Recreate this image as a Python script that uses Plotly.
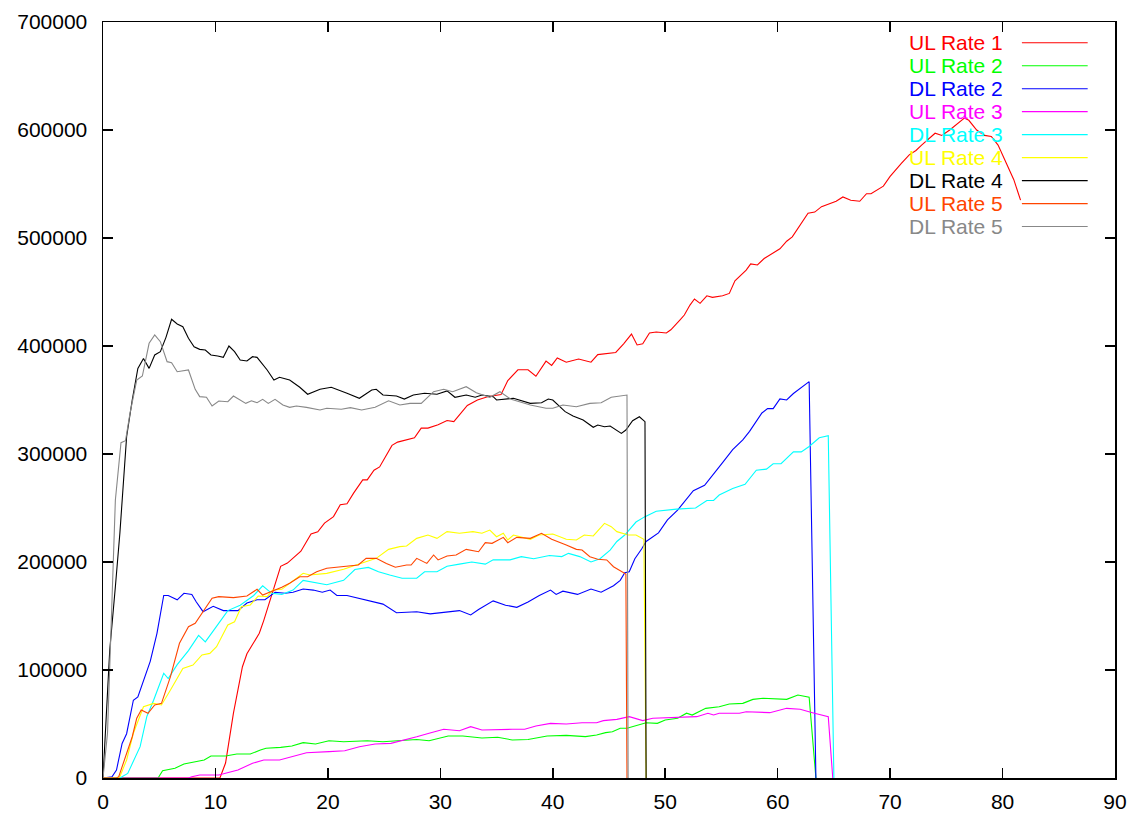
import plotly.graph_objects as go

# ---------------- data ----------------
ul1_t = [0, 10.4, 10.9, 11.6, 12.4, 12.8, 13.9, 14.3, 15.8, 16.4, 17.6, 18.5, 19.1, 19.7, 20.5, 21.1, 21.7, 22.3, 23.1, 23.5,
         24.1, 24.6, 25.7, 26.2, 27.7, 28.3, 28.9, 29.8, 30.6, 31.2, 32.4, 33.3, 34.2, 35.4, 36.0, 36.9, 37.8, 38.5, 39.4, 39.9,
         40.4, 41.2, 42.3, 43.4, 44.0, 45.6, 46.3, 47.0, 47.5, 48.0, 48.6, 49.2, 50.1, 50.5, 51.3, 51.7, 52.2, 52.6, 53.1, 53.7,
         54.2, 55.1, 55.7, 56.2, 57.2, 57.6, 58.2, 58.8, 60.2, 60.8, 61.3, 62.7, 63.3, 63.9, 65.2, 65.8, 66.5, 67.3, 67.9, 68.3,
         69.4, 70.0, 71.0, 71.7, 72.3, 72.8, 74.0, 74.6, 75.3, 76.6, 77.0, 77.7, 78.4, 79.0, 79.6, 80.2, 81.0, 81.6]
ul1_v = [0, 0, 13900, 60000, 103000, 115000, 134000, 146000, 196000, 199000, 210000, 226000, 228000, 236000, 242000, 253000, 254000, 264000, 276000, 276000,
         285000, 288000, 308000, 311000, 315000, 324000, 324000, 327000, 331000, 330000, 345000, 350000, 353000, 355000, 368000, 378000, 378000, 372000, 386000, 382000,
         389000, 385000, 388000, 385000, 392000, 394000, 402000, 411000, 401000, 402000, 412000, 413000, 412000, 415000, 424000, 428700, 437900, 443500, 439500, 446500,
         445000, 446500, 448700, 460400, 470200, 476000, 475000, 481000, 490000, 497000, 501000, 523000, 524000, 529000, 534000, 538000, 535000, 534000, 541000, 541000,
         548000, 557000, 569000, 577000, 581000, 586000, 597000, 595000, 600000, 611000, 609000, 600000, 595000, 594000, 586000, 572000, 554000, 535000]

ul2_t = [0, 4.9, 5.3, 6.4, 7.2, 8.1, 9.0, 9.6, 10.9, 11.9, 13.1, 14.0, 14.5, 15.8, 16.8, 17.8, 18.9, 20.1, 21.4, 23.5,
         24.9, 26.2, 27.9, 29.0, 30.7, 32.0, 33.7, 35.1, 36.4, 37.8, 39.5, 41.2, 42.9, 43.9, 44.7, 45.3, 46.0, 46.6, 48.3, 49.3,
         50.0, 51.1, 51.9, 52.4, 53.6, 54.8, 55.7, 56.9, 57.8, 58.7, 59.6, 60.8, 61.8, 62.8, 63.4]
ul2_v = [0, 0, 6800, 9000, 13000, 15000, 16700, 20400, 20400, 22200, 22200, 25900, 27500, 28400, 29600, 32700, 31500, 34500, 33600, 34500,
         33600, 34500, 35700, 34500, 38900, 38900, 37000, 37700, 35200, 35700, 38900, 39500, 38300, 39800, 42000, 42900, 46000, 46000, 51200, 50600,
         53700, 55300, 60000, 58300, 64500, 66000, 68500, 69100, 72800, 73800, 73100, 72800, 76800, 74700, 0]

dl2_t = [0, 0.8, 1.2, 1.7, 2.1, 2.7, 3.1, 4.2, 4.8, 5.4, 5.8, 6.6, 7.2, 7.9, 8.3, 8.9, 9.8, 10.7, 12.0, 12.8,
         13.7, 14.4, 15.3, 16.2, 16.9, 17.8, 18.7, 19.5, 20.2, 20.8, 21.7, 23.2, 24.9, 26.1, 27.9, 29.1, 30.7, 31.7, 32.7, 33.4,
         34.7, 35.8, 36.8, 37.8, 38.8, 39.8, 40.3, 40.9, 42.2, 43.4, 44.3, 45.4, 46.0, 46.4, 46.8, 47.3, 47.9, 48.3, 49.4, 50.2,
         51.1, 52.5, 53.5, 54.3, 55.1, 56.0, 56.9, 57.5, 58.6, 59.1, 59.6, 60.2, 60.8, 61.4, 62.0, 62.8, 63.4]
dl2_v = [0, 1200, 7400, 32000, 41000, 72000, 75000, 108000, 134000, 169000, 169000, 165000, 171000, 170000, 163000, 154000, 159000, 155000, 155000, 162000,
         165000, 165000, 172000, 171000, 172000, 175000, 174000, 172000, 174000, 169000, 169000, 165000, 161000, 153000, 154000, 152000, 154000, 155000, 151000, 156000,
         164000, 160000, 158000, 163000, 169000, 174000, 170000, 173000, 170000, 175000, 172000, 178000, 183000, 190000, 191000, 203000, 212000, 219000, 227000, 239000,
         248000, 266000, 271000, 282000, 292000, 304000, 313000, 321000, 338000, 342000, 342000, 351000, 350000, 356000, 361000, 367000, 0]

ul3_t = [0, 7.6, 7.9, 8.6, 10.3, 12.0, 13.3, 14.3, 15.7, 16.7, 18.1, 20.1, 21.5, 22.8, 24.2, 25.6, 26.9, 27.9, 29.0, 30.3,
         31.7, 32.7, 33.7, 35.1, 36.4, 37.5, 38.5, 39.8, 41.2, 42.6, 43.9, 44.5, 45.7, 46.8, 48.0, 48.9, 50.7, 52.8, 53.8, 54.3,
         54.8, 56.6, 57.2, 59.3, 60.8, 62.0, 63.1, 64.5, 64.9]
ul3_v = [0, 0, 1200, 2800, 2800, 7400, 13600, 16700, 16700, 19700, 23400, 24400, 25300, 29000, 31500, 32100, 35200, 38200, 41400, 45100,
         43800, 47500, 44400, 45100, 45100, 45100, 48100, 50600, 50000, 51200, 51200, 53100, 54300, 56800, 53100, 55300, 56200, 56800, 59900, 58300,
         59900, 59900, 61400, 60500, 64500, 63600, 60500, 56800, 0]

dl3_t = [0, 1.5, 2.2, 3.3, 3.9, 4.5, 5.4, 5.8, 6.6, 7.6, 8.5, 9.1, 10.0, 11.1, 12.2, 13.4, 14.2, 15.0, 15.9, 16.9,
         17.8, 18.4, 19.9, 21.4, 22.4, 23.6, 24.5, 25.5, 26.6, 27.9, 28.6, 29.7, 30.6, 31.7, 32.8, 34.0, 34.7, 36.2, 37.2, 38.3,
         39.7, 40.8, 41.4, 42.4, 43.4, 44.2, 45.1, 45.7, 46.4, 47.4, 48.2, 49.2, 51.0, 52.7, 53.7, 54.3, 54.8, 56.0, 57.1, 58.1,
         59.0, 59.6, 60.3, 61.4, 62.1, 62.8, 63.7, 64.5, 65.0]
dl3_v = [0, 0, 4300, 29000, 57000, 72000, 97000, 92000, 105000, 118000, 132000, 126000, 139000, 155000, 160000, 169000, 178000, 171000, 170000, 174000,
         183000, 182000, 179000, 183000, 193000, 195000, 191000, 188000, 185000, 185000, 191000, 191000, 196000, 198000, 200000, 198000, 202000, 202000, 205000, 203000,
         206000, 205000, 208000, 205000, 200000, 203000, 211000, 219000, 225000, 237000, 242000, 247000, 249000, 250000, 257000, 257000, 262000, 268000, 272000, 285000,
         286000, 291000, 291000, 302000, 302000, 307000, 315000, 317000, 0]

ul4_t = [0, 1.3, 1.5, 2.1, 2.7, 3.6, 4.5, 5.2, 6.0, 7.1, 8.0, 8.8, 9.5, 10.1, 11.1, 11.7, 12.3, 13.1, 13.8, 14.6,
         15.1, 15.9, 16.8, 17.8, 18.4, 19.9, 21.4, 22.8, 24.3, 25.4, 26.4, 27.0, 27.9, 28.9, 29.7, 30.6, 31.7, 32.9, 33.7, 34.4,
         35.0, 35.6, 36.0, 36.5, 38.0, 38.8, 40.0, 41.2, 42.1, 42.8, 43.6, 44.6, 45.2, 45.7, 46.7, 47.4, 48.1, 48.3]
ul4_v = [0, 0, 1200, 16700, 41400, 66000, 69100, 67600, 81500, 101500, 104600, 113900, 115400, 121600, 141700, 144700, 158600, 160200, 168500, 167900,
         174100, 174700, 181800, 189500, 188000, 189500, 193200, 197900, 203400, 211700, 214200, 214800, 221900, 225000, 221900, 228100, 226600, 228100, 226600, 229600,
         223400, 226600, 220400, 225000, 221000, 225000, 225900, 221000, 220400, 225000, 224100, 235800, 232700, 228100, 225000, 225000, 221000, 0]

dl4_t = [0, 0.6, 1.1, 1.5, 2.1, 2.6, 3.1, 3.6, 4.1, 4.6, 5.1, 5.6, 6.1, 6.6, 7.1, 7.6, 8.1, 8.6, 9.1, 9.6,
         10.2, 10.7, 11.2, 11.7, 12.2, 12.8, 13.3, 13.7, 14.6, 15.2, 15.7, 16.6, 17.5, 18.2, 19.3, 20.3, 21.7, 22.8, 23.9, 24.3,
         24.9, 26.1, 26.8, 27.6, 28.6, 29.7, 30.6, 31.3, 32.3, 33.1, 33.7, 34.7, 35.0, 36.5, 38.0, 39.0, 39.6, 40.0, 41.1, 41.8,
         42.7, 43.6, 44.0, 44.6, 45.1, 46.1, 46.5, 47.1, 47.7, 48.2, 48.3]
dl4_v = [0, 118500, 177100, 226600, 316000, 350000, 379300, 388500, 379300, 391700, 394700, 408000, 424700, 420400, 417900, 407100, 399300, 396900, 396300, 391700,
         390700, 389500, 400000, 394700, 387000, 386100, 390100, 389500, 377800, 368500, 371000, 368500, 361800, 355300, 359900, 361800, 356200, 351600, 359200, 359900,
         354600, 353700, 350900, 354600, 356200, 355300, 358400, 352500, 354600, 352500, 354600, 353100, 350000, 351600, 346900, 347500, 350900, 350000, 339200, 335200,
         331500, 324700, 326800, 325300, 325900, 319100, 322200, 330800, 334500, 329900, 0]

ul5_t = [0, 1.2, 1.4, 2.6, 3.0, 3.4, 4.0, 4.6, 5.2, 6.0, 6.8, 7.6, 8.2, 8.9, 9.7, 10.3, 11.6, 12.8, 13.7, 14.2,
         15.0, 15.9, 16.6, 17.5, 18.2, 19.0, 19.9, 21.4, 22.7, 23.4, 24.3, 25.2, 26.0, 27.0, 27.4, 27.9, 28.8, 29.4, 29.8, 30.6,
         31.4, 32.3, 33.4, 34.0, 34.6, 35.6, 36.0, 36.8, 38.0, 39.0, 39.9, 41.2, 42.1, 42.6, 43.3, 44.0, 44.8, 45.4, 46.1, 46.5,
         46.6]
ul5_v = [0, 0, 1200, 38200, 55300, 63000, 59900, 67600, 69100, 93800, 124700, 140100, 143200, 154000, 166400, 167900, 167000, 168500, 174700, 169400,
         172500, 176600, 180300, 186400, 186400, 191000, 194200, 195600, 197200, 203400, 203400, 198700, 195100, 197200, 197200, 203400, 198700, 206500, 201900, 205600,
         206500, 211700, 209500, 217900, 217300, 222800, 217900, 222800, 221900, 226600, 221000, 215700, 211700, 211100, 204900, 202500, 201900, 195600, 191000, 188900,
         0]

dl5_t = [0, 0.4, 0.8, 1.1, 1.6, 2.0, 2.4, 3.0, 3.5, 4.1, 4.6, 5.1, 5.7, 6.1, 6.6, 7.6, 8.2, 8.6, 9.2, 9.7,
         10.3, 11.1, 11.6, 12.2, 12.7, 13.2, 13.7, 14.2, 14.7, 15.3, 16.0, 16.6, 17.2, 18.1, 19.3, 19.9, 21.2, 22.0, 23.0, 24.2,
         25.4, 26.4, 27.3, 28.3, 29.4, 30.3, 31.1, 32.3, 33.2, 34.4, 35.3, 36.3, 38.0, 39.4, 40.0, 40.9, 42.1, 43.3, 44.3, 45.2,
         46.0, 46.6, 46.7]
dl5_v = [0, 41400, 164800, 257400, 310500, 312300, 337700, 368500, 372200, 402500, 410200, 404000, 385500, 384600, 376200, 377800, 359900, 353100, 352500, 344400,
         349100, 348400, 353700, 350000, 346900, 349300, 347500, 350600, 346900, 350600, 345400, 343200, 344400, 343200, 340700, 342300, 341400, 342900, 340700, 343200,
         349300, 345400, 346900, 346900, 357700, 359900, 357700, 362300, 356800, 352500, 357700, 350600, 345400, 342300, 342300, 345400, 343800, 346900, 347500, 352500,
         353700, 354600, 0]

series_names = ["UL Rate 1", "UL Rate 2", "DL Rate 2", "UL Rate 3", "DL Rate 3",
                "UL Rate 4", "DL Rate 4", "UL Rate 5", "DL Rate 5"]
series_t = [ul1_t, ul2_t, dl2_t, ul3_t, dl3_t, ul4_t, dl4_t, ul5_t, dl5_t]
series_v = [ul1_v, ul2_v, dl2_v, ul3_v, dl3_v, ul4_v, dl4_v, ul5_v, dl5_v]
series_colors = ["#ff0000", "#00ff00", "#0000ff", "#ff00ff", "#00ffff",
                 "#ffff00", "#000000", "#ff4500", "#888888"]

x_ticks = [0, 10, 20, 30, 40, 50, 60, 70, 80, 90]
y_ticks = [0, 100000, 200000, 300000, 400000, 500000, 600000, 700000]

# ---------------- figure ----------------
FONT = "Liberation Sans, Arial, Helvetica, sans-serif"
fig = go.Figure()
for name, t, v, c in zip(series_names, series_t, series_v, series_colors):
    fig.add_trace(go.Scatter(x=t, y=v, mode="lines", name=name,
                             line=dict(color=c, width=1.1), showlegend=False))

# gnuplot-style key: coloured label, sample line to its right
row0 = 0.9726
drow = 0.0304
for i, (name, c) in enumerate(zip(series_names, series_colors)):
    yy = row0 - i * drow
    fig.add_annotation(xref="paper", yref="paper", x=0.891, y=yy, text=name,
                       showarrow=False, xanchor="right", yanchor="middle",
                       font=dict(family=FONT, size=21, color=c))
    fig.add_shape(type="line", xref="paper", yref="paper",
                  x0=0.908, x1=0.973, y0=yy, y1=yy,
                  line=dict(color=c, width=1.1))

axis_common = dict(showgrid=False, zeroline=False, showline=True, mirror="ticks",
                   linecolor="black", linewidth=1.5, ticks="inside", ticklen=10,
                   tickwidth=1.5, tickcolor="black", automargin=False,
                   tickfont=dict(family=FONT, size=21, color="black"))

fig.update_xaxes(range=[0, 90], tickvals=x_ticks, ticktext=[str(v) for v in x_ticks],
                 ticklabelstandoff=4, **axis_common)
fig.update_yaxes(range=[0, 700000], tickvals=y_ticks, ticktext=[str(v) for v in y_ticks],
                 ticklabelstandoff=10, **axis_common)

fig.update_layout(width=1137, height=817,
                  margin=dict(l=103, r=22, t=22, b=39, pad=0, autoexpand=False),
                  plot_bgcolor="white", paper_bgcolor="white",
                  font=dict(family=FONT, size=21, color="black"),
                  showlegend=False, hovermode=False)

# remove the default page margin so the 1137x817 figure fills the window exactly
fig.write_html("out.html",
               config={"displayModeBar": False, "staticPlot": True},
               post_script="document.body.style.margin='0px';"
                           "document.body.style.overflow='hidden';")
